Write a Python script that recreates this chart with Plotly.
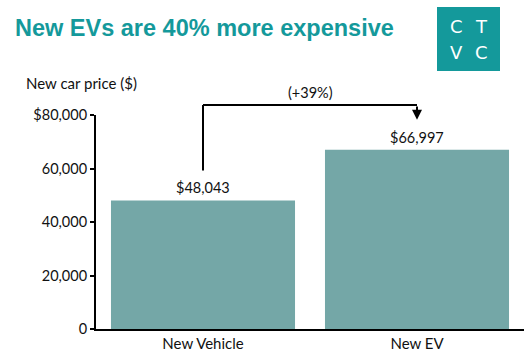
import plotly.graph_objects as go

categories = ["New Vehicle", "New EV"]
prices = [48043, 66997]
tick_vals = [0, 20000, 40000, 60000, 80000]
tick_text = ["0", "20,000", "40,000", "60,000", "$80,000"]
title_text = "New EVs are 40% more expensive"
y_title = "New car price ($)"

YMAX = 80000
BAR = "#74a7a7"
TEAL = "#14999b"
FONT = "Lato, 'Open Sans', sans-serif"

# layout geometry (pixels)
W, H = 532, 360
ML, MR, MT, MB = 96, 8, 115, 31
PW, PH = W - ML - MR, H - MT - MB

def px_x(p):
    return (p - ML) / PW

def px_y(p):
    return (H - MB - p) / PH

fig = go.Figure(go.Bar(
    x=categories, y=prices, marker=dict(color=BAR, line=dict(width=0)),
    hoverinfo="skip",
))

ann = []
for c, v in zip(categories, prices):
    ann.append(dict(x=c, y=v, xref="x", yref="y", text=f"${v:,}", showarrow=False,
                    yanchor="bottom", yshift=2, font=dict(size=14.5, color="#111", family=FONT)))

pct = round((prices[1] / prices[0] - 1) * 100)
top = 1.047
ann.append(dict(x=0.5, y=top, xref="x", yref="paper", text=f"(+{pct}%)", showarrow=False,
                yanchor="bottom", yshift=2, font=dict(size=14.5, color="#111", family=FONT)))
# arrow down to second bar
tip = (prices[1] / YMAX) + 0.14
ann.append(dict(x=categories[1], y=tip, xref="x", yref="paper", ax=0, ay=-(top - tip) * PH,
                axref="pixel", ayref="pixel", text="", showarrow=True, arrowhead=2,
                arrowsize=1.0, arrowwidth=2, arrowcolor="#000", standoff=0, startstandoff=0))
ann.append(dict(x=px_x(24), y=px_y(83), xref="paper", yref="paper", text=y_title, showarrow=False,
                xanchor="left", yanchor="middle", font=dict(size=15, color="#111", family=FONT)))
ann.append(dict(x=px_x(13), y=px_y(28), xref="paper", yref="paper", text=f"<b>{title_text}</b>",
                showarrow=False, xanchor="left", yanchor="middle",
                font=dict(size=23.5, color=TEAL, family="Arial, 'Liberation Sans', sans-serif")))
for t, xp, yp in [("C", 456, 27), ("T", 481, 27), ("V", 456, 52), ("C", 481, 52)]:
    ann.append(dict(x=px_x(xp), y=px_y(yp), xref="paper", yref="paper", text=t, showarrow=False,
                    xanchor="center", yanchor="middle",
                    font=dict(size=18, color="white", family="'DejaVu Sans', sans-serif")))

shapes = [
    dict(type="line", xref="x", yref="paper", x0=categories[0], x1=categories[0],
         y0=prices[0] / YMAX + 0.14, y1=top, line=dict(color="#000", width=2)),
    dict(type="line", xref="x", yref="paper", x0=categories[0], x1=categories[1],
         y0=top, y1=top, line=dict(color="#000", width=2)),
    dict(type="rect", xref="paper", yref="paper", x0=px_x(437), x1=px_x(500),
         y0=px_y(71), y1=px_y(7), fillcolor=TEAL, line=dict(width=0)),
]

fig.update_layout(
    width=W, height=H, margin=dict(l=ML, r=MR, t=MT, b=MB),
    paper_bgcolor="white", plot_bgcolor="white", showlegend=False,
    bargap=0.14, annotations=ann, shapes=shapes,
    font=dict(family=FONT, size=14, color="#111"),
    xaxis=dict(showline=True, linecolor="#000", linewidth=2, ticks="", showgrid=False,
               tickfont=dict(size=15, color="#111"), fixedrange=True),
    yaxis=dict(range=[0, YMAX], tickvals=tick_vals, ticktext=tick_text, showline=True,
               linecolor="#000", linewidth=2, ticks="outside", ticklen=4, tickwidth=2,
               tickcolor="#000", showgrid=False, zeroline=False,
               tickfont=dict(size=14.5, color="#111"), fixedrange=True),
)

fig.write_html("out.html", config={"displayModeBar": False},
               post_script="document.body.style.margin='0';document.body.style.padding='0';")
